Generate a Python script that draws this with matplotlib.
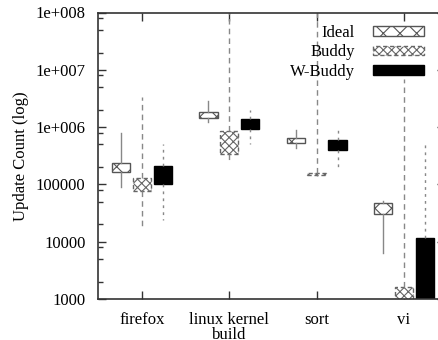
import matplotlib
matplotlib.use("Agg")
import matplotlib.pyplot as plt
from matplotlib.patches import Patch
from matplotlib.ticker import LogLocator, FixedLocator, NullFormatter
import numpy as np

categories = ['firefox', 'linux kernel\nbuild', 'sort', 'vi']
series_names = ['Ideal', 'Buddy', 'W-Buddy']
ytick_labels = ['1000', '10000', '100000', '1e+006', '1e+007', '1e+008']

ideal_whislo = [9.1e4, 1.21e6, 4.4e5, 6.4e3]
ideal_q1 = [1.63e5, 1.46e6, 5.2e5, 3.0e4]
ideal_q3 = [2.39e5, 1.86e6, 6.38e5, 4.68e4]
ideal_whishi = [7.8e5, 2.89e6, 8.9e5, 5.13e4]

buddy_whislo = [1.78e4, 2.56e5, 1.40e5, 500]
buddy_q1 = [7.8e4, 3.4e5, 1.45e5, 500]
buddy_q3 = [1.31e5, 8.55e5, 1.60e5, 1.62e3]
buddy_whishi = [3.3e6, 2e8, 2e8, 7.0e6]

wbuddy_whislo = [2.39e4, 5.07e5, 1.78e5, 500]
wbuddy_q1 = [1.02e5, 9.3e5, 3.98e5, 500]
wbuddy_q3 = [2.12e5, 1.37e6, 5.96e5, 1.17e4]
wbuddy_whishi = [5.07e5, 1.99e6, 8.9e5, 5.07e5]

plt.rcParams['font.family'] = ['Liberation Serif', 'DejaVu Serif']
plt.rcParams['hatch.linewidth'] = 0.8

fig = plt.figure(figsize=(4.39, 3.40), dpi=100)
W, H = 439.0, 340.0
ax = fig.add_axes([98 / W, (H - 299) / H, (445 - 98) / W, (299 - 12.5) / H])


def stats(lo, q1, q3, hi):
    out = []
    for a, b, c, d in zip(lo, q1, q3, hi):
        out.append(dict(whislo=a, q1=b, med=np.sqrt(b * c), q3=c, whishi=d, fliers=[]))
    return out


x = np.arange(1, len(categories) + 1)
off = 0.24
wid = 0.21

common = dict(showcaps=False, showfliers=False, patch_artist=True, widths=wid,
              medianprops=dict(linewidth=0))

ax.bxp(stats(ideal_whislo, ideal_q1, ideal_q3, ideal_whishi), positions=x - off,
       boxprops=dict(facecolor='white', edgecolor='#555555', linewidth=1.0, hatch='xx'),
       whiskerprops=dict(color='#888888', linewidth=1.0, linestyle='-'), **common)
ax.bxp(stats(buddy_whislo, buddy_q1, buddy_q3, buddy_whishi), positions=x,
       boxprops=dict(facecolor='white', edgecolor='#666666', linewidth=1.0, hatch='xxxx',
                     linestyle=(0, (3, 2))),
       whiskerprops=dict(color='#888888', linewidth=1.0, linestyle=(0, (4, 3))), **common)
ax.bxp(stats(wbuddy_whislo, wbuddy_q1, wbuddy_q3, wbuddy_whishi), positions=x + off,
       boxprops=dict(facecolor='black', edgecolor='black', linewidth=1.0),
       whiskerprops=dict(color='#888888', linewidth=1.0, linestyle=(0, (2, 3))), **common)

ax.set_yscale('log')
ax.set_ylim(1000, 1e8)
ax.set_xlim(0.496, 4.47)
ax.yaxis.set_major_locator(FixedLocator([1e3, 1e4, 1e5, 1e6, 1e7, 1e8]))
ax.set_yticklabels(ytick_labels)
ax.yaxis.set_minor_locator(LogLocator(base=10, subs=(2, 5, 8)))
ax.yaxis.set_minor_formatter(NullFormatter())
ax.set_xticks(x)
ax.set_xticklabels(categories, fontsize=12, linespacing=0.95)
ax.tick_params(axis='both', which='major', direction='in', length=6, width=1.0,
               top=True, right=True, labelsize=12, color='#333333')
ax.tick_params(axis='y', which='minor', direction='in', length=3.5, width=1.0,
               right=True, color='#333333')
ax.tick_params(axis='x', pad=9)
ax.tick_params(axis='y', pad=9)
for s in ax.spines.values():
    s.set_color('#333333')
    s.set_linewidth(1.2)

ax.set_ylabel('Update Count (log)', fontsize=12, labelpad=5)

handles = [
    Patch(facecolor='white', edgecolor='#555555', hatch='xx', linewidth=1.0),
    Patch(facecolor='white', edgecolor='#666666', hatch='xxxx', linewidth=1.0, linestyle=(0, (3, 2))),
    Patch(facecolor='black', edgecolor='black', linewidth=1.0),
]
leg = ax.legend(handles, series_names, loc='upper right', bbox_to_anchor=(424 / W, 1 - 25 / H),
                bbox_transform=fig.transFigure, frameon=False, markerfirst=False,
                handlelength=3.05, handleheight=0.5, labelspacing=0.2, handletextpad=1.1,
                fontsize=12, borderpad=0, borderaxespad=0)

fig.savefig('out.png', dpi=100)
